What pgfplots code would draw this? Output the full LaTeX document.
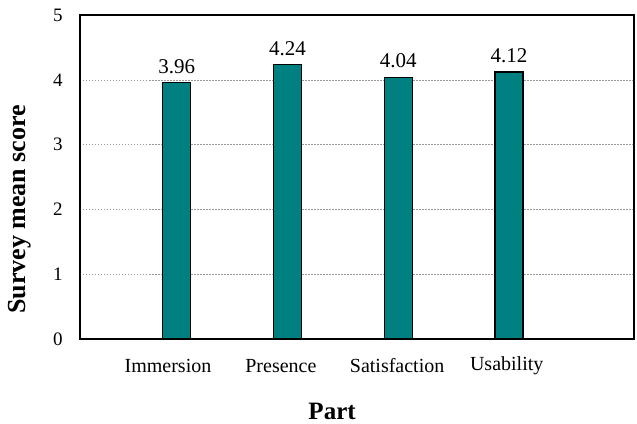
\documentclass[border=0pt]{standalone}
\usepackage{fontspec}
\setmainfont{Liberation Serif}
\usepackage{pgfplots}
\pgfplotsset{compat=1.18}
\definecolor{barteal}{RGB}{0,128,128}
\begin{document}
\begin{tikzpicture}
\begin{axis}[
  name=ax,
  scale only axis,
  width=554pt, height=324pt,
  xmin=0.125, xmax=5.13,
  ymin=0, ymax=5,
  ytick={0,1,2,3,4,5},
  xtick={0.92,1.94,2.99,3.98},
  xticklabels={Immersion,Presence,Satisfaction,Usability},
  major tick length=0pt,
  axis line style={line width=1.3pt},
  ymajorgrids,
  grid style={gray!80, line width=0.5pt, dash pattern=on 1.5pt off 1.5pt},
  /pgf/number format/assume math mode=true,
  yticklabel style={font=\fontsize{19}{22}\selectfont, anchor=center, xshift=-22pt},
  xticklabel style={font=\fontsize{20}{23}\selectfont, anchor=center, yshift=-27pt},
  xlabel={Part},
  ylabel={Survey mean score},
  xlabel style={font=\fontsize{25}{28}\selectfont\bfseries, at={(rel axis cs:0.455,0)}, anchor=center, inner sep=0pt, yshift=-72pt},
  ylabel style={font=\fontsize{26}{29}\selectfont\bfseries, at={(rel axis cs:0,0.4)}, anchor=center, inner sep=0pt, yshift=60pt},
  ybar, bar width=28pt,
  nodes near coords,
  nodes near coords style={font=\fontsize{21}{24}\selectfont, /pgf/number format/fixed, /pgf/number format/precision=2, /pgf/number format/fixed zerofill, yshift=5pt},
]
\addplot[fill=barteal, draw=black, line width=1.2pt] coordinates {(1,3.96) (2,4.24) (3,4.04) (4,4.12)};
\end{axis}
\path ([xshift=-80pt,yshift=-84pt]ax.south west) rectangle ([xshift=3pt,yshift=15pt]ax.north east);
\end{tikzpicture}
\end{document}
